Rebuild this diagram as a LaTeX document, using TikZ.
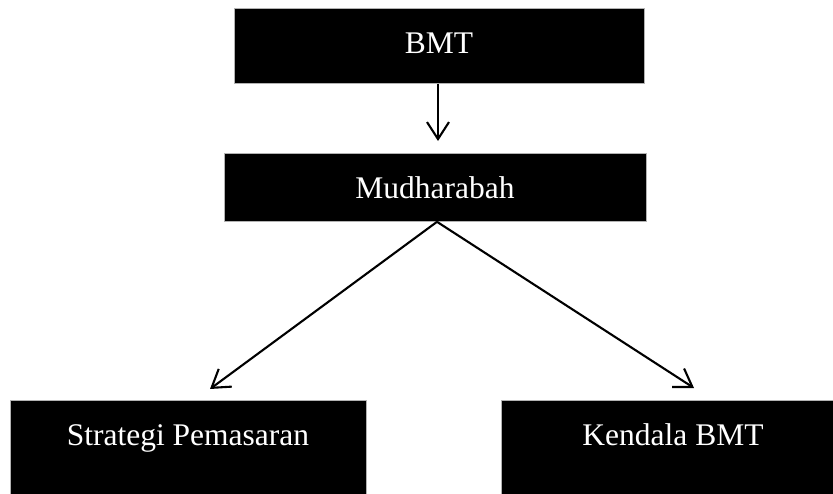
\documentclass[tikz,border=0pt]{standalone}
\usepackage{fontspec}
\setmainfont{Liberation Serif}
\usetikzlibrary{arrows.meta, positioning}

\begin{document}
\begin{tikzpicture}[x=1pt, y=-1pt, >={Straight Barb[length=17pt, width=22pt]}, line width=2.1pt,
    blockbox/.style={draw=gray!60, line width=0.8pt, fill=black, text=white, inner sep=0pt, text height=45pt, font={\fontsize{31.5}{36}\selectfont}}]
    \useasboundingbox (0,0) rectangle (833,493);
    \node[blockbox, anchor=north, minimum width=410pt, text depth=30pt] (bmt) at (439,8) {BMT};
    \node[blockbox, anchor=north, minimum width=422pt, text depth=23pt] (mudharabah) at (435,153) {Mudharabah};
    \node[blockbox, anchor=north, minimum width=356pt, text depth=60pt] (strategi) at (188,400) {Strategi Pemasaran};
    \node[blockbox, anchor=north, minimum width=344pt, text depth=60pt] (kendala) at (673,400) {Kendala BMT};

    \coordinate (tipleft) at (210,389);
    \coordinate (tipright) at (694,388);

    \draw[->] (bmt.south -| 438,0) -- ([yshift=12pt]mudharabah.north -| 438,0);
    \draw[->] ([xshift=2pt]mudharabah.south) -- (tipleft);
    \draw[->] ([xshift=2pt]mudharabah.south) -- (tipright);
\end{tikzpicture}
\end{document}
